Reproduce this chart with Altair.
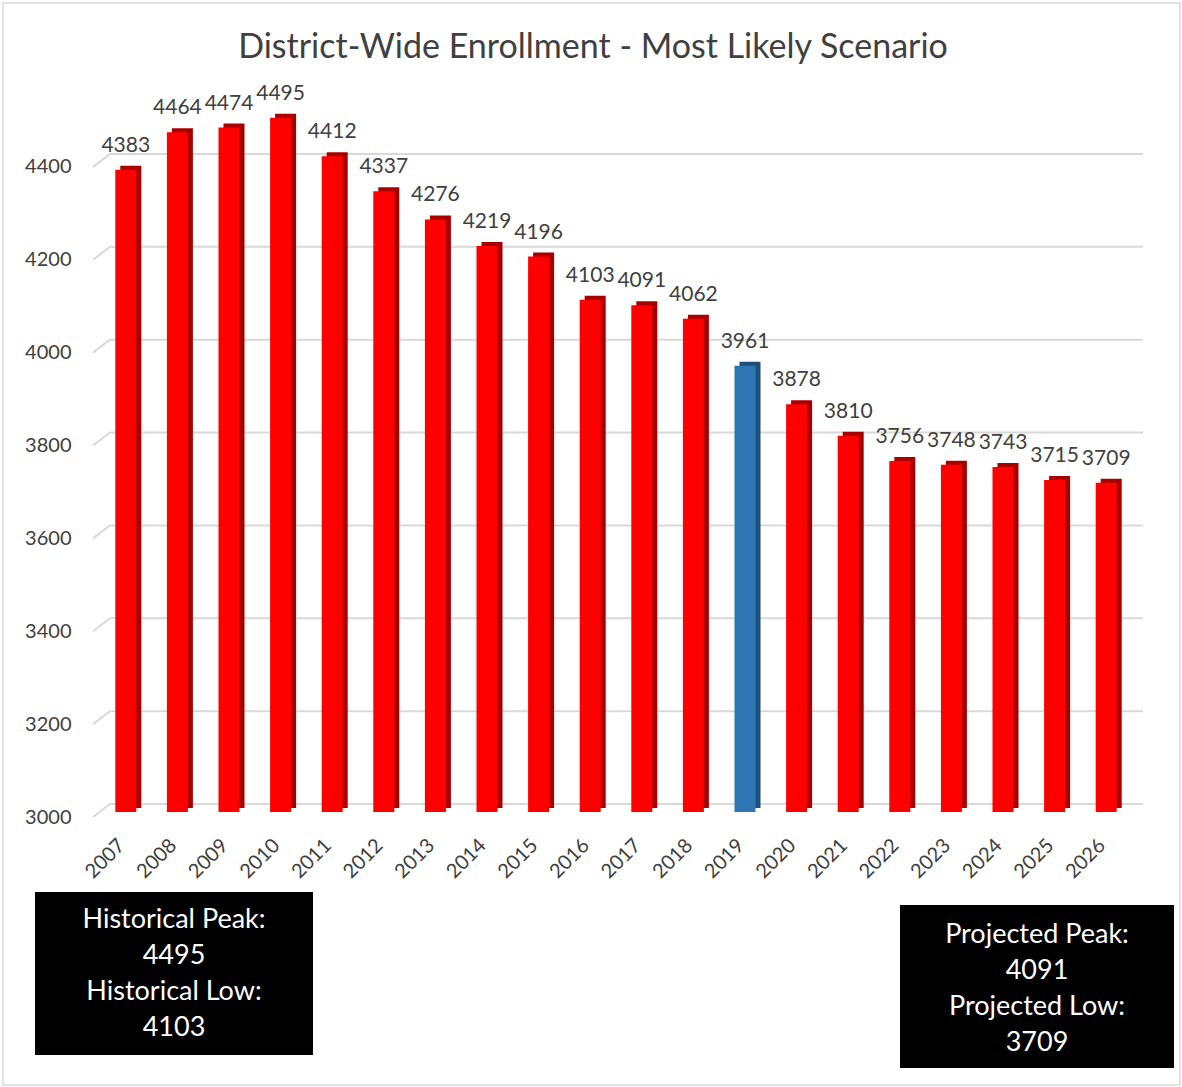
import altair as alt
import pandas as pd

years = [str(y) for y in range(2007, 2027)]
enrollment = [4383, 4464, 4474, 4495, 4412, 4337, 4276, 4219, 4196, 4103,
              4091, 4062, 3961, 3878, 3810, 3756, 3748, 3743, 3715, 3709]
current_year = "2019"
y_ticks = [3000, 3200, 3400, 3600, 3800, 4000, 4200, 4400]
title_text = "District-Wide Enrollment - Most Likely Scenario"
left_box_lines = ["Historical Peak:", "4495", "Historical Low:", "4103"]
right_box_lines = ["Projected Peak:", "4091", "Projected Low:", "3709"]

FONT = "Lato"
TXT = "#404040"

df = pd.DataFrame({"year": years, "enrollment": enrollment})
df["base"] = 3000
df["kind"] = ["current" if y == current_year else "other" for y in years]
df["kind_side"] = df["kind"]
grid_df = pd.DataFrame({"v": y_ticks})
one = pd.DataFrame({"a": [0]})

W, H = 1032, 743
xs = alt.Scale(domain=years, paddingInner=0, paddingOuter=0)
ys = alt.Scale(domain=[3000, 4600], nice=False, zero=False)

yaxis = alt.Axis(values=y_ticks, format="d", grid=False, domain=False, ticks=False, labelPadding=29,
                 labelFontSize=20, labelFont=FONT, labelColor=TXT, title=None, zindex=1)
xaxis = alt.Axis(labelAngle=-45, labelAlign="right", labelBaseline="middle", labelPadding=25,
                 labelOffset=-4, labelFontSize=20, labelFont=FONT, labelColor=TXT,
                 domain=False, ticks=False, title=None, zindex=1)

front_color = alt.Color("kind:N", scale=alt.Scale(domain=["other", "current"], range=["#ff0000", "#2e75b6"]), legend=None)
side_color = alt.Color("kind_side:N", scale=alt.Scale(domain=["other", "current"], range=["#a80000", "#1f4e79"]), legend=None)

grid_h = alt.Chart(grid_df).mark_rule(color="#d9d9d9", strokeWidth=2, yOffset=-13).encode(
    y=alt.Y("v:Q", scale=ys, axis=yaxis), x=alt.value(10), x2=alt.value(1043))
grid_d = alt.Chart(grid_df).mark_rule(color="#d9d9d9", strokeWidth=2, y2Offset=-13).encode(
    y=alt.Y("v:Q", scale=ys, axis=yaxis), y2="v:Q", x=alt.value(-7), x2=alt.value(10))

back = alt.Chart(df).mark_bar(size=21, xOffset=5, yOffset=-9, y2Offset=-9).encode(
    x=alt.X("year:N", scale=xs, axis=xaxis),
    y=alt.Y("enrollment:Q", scale=ys, axis=yaxis),
    y2="base:Q",
    color=side_color)
front = alt.Chart(df).mark_bar(size=21, yOffset=-5, y2Offset=-5).encode(
    x=alt.X("year:N", scale=xs, axis=xaxis),
    y=alt.Y("enrollment:Q", scale=ys, axis=yaxis),
    y2="base:Q",
    color=front_color)
labels = alt.Chart(df).mark_text(font=FONT, fontSize=21, color=TXT, baseline="middle", dy=-29).encode(
    x=alt.X("year:N", scale=xs, axis=xaxis),
    y=alt.Y("enrollment:Q", scale=ys, axis=yaxis),
    text="enrollment:Q")

title = alt.Chart(one).mark_text(font=FONT, fontSize=34, color=TXT, align="center", baseline="middle").encode(
    x=alt.value(493), y=alt.value(-26), text=alt.value(title_text))

border = alt.Chart(one).mark_rect(fill="transparent", stroke="#d9d9d9", strokeWidth=1.5).encode(
    x=alt.value(-97), x2=alt.value(1080), y=alt.value(-71), y2=alt.value(1011))

lbox = alt.Chart(one).mark_rect(color="black").encode(
    x=alt.value(-65), x2=alt.value(213), y=alt.value(818), y2=alt.value(981))
rbox = alt.Chart(one).mark_rect(color="black").encode(
    x=alt.value(800), x2=alt.value(1074), y=alt.value(831), y2=alt.value(994))
ltext = alt.Chart(one).mark_text(font=FONT, fontSize=27, color="white", align="center",
                                 baseline="middle", lineHeight=36).encode(
    x=alt.value(74), y=alt.value(846), text=alt.value(left_box_lines))
rtext = alt.Chart(one).mark_text(font=FONT, fontSize=27, color="white", align="center",
                                 baseline="middle", lineHeight=36).encode(
    x=alt.value(937), y=alt.value(861), text=alt.value(right_box_lines))

chart = alt.layer(border, grid_h, grid_d, back, front, labels, title, lbox, rbox, ltext, rtext).resolve_scale(
    color="independent"
).properties(
    width=W, height=H,
    background="white",
    autosize=alt.AutoSizeParams(type="none"),
    padding={"left": 100, "top": 74, "right": 50, "bottom": 270},
).configure_view(strokeWidth=0, stroke="transparent")

chart.save("out.html", embed_options={"renderer": "svg", "actions": False})
